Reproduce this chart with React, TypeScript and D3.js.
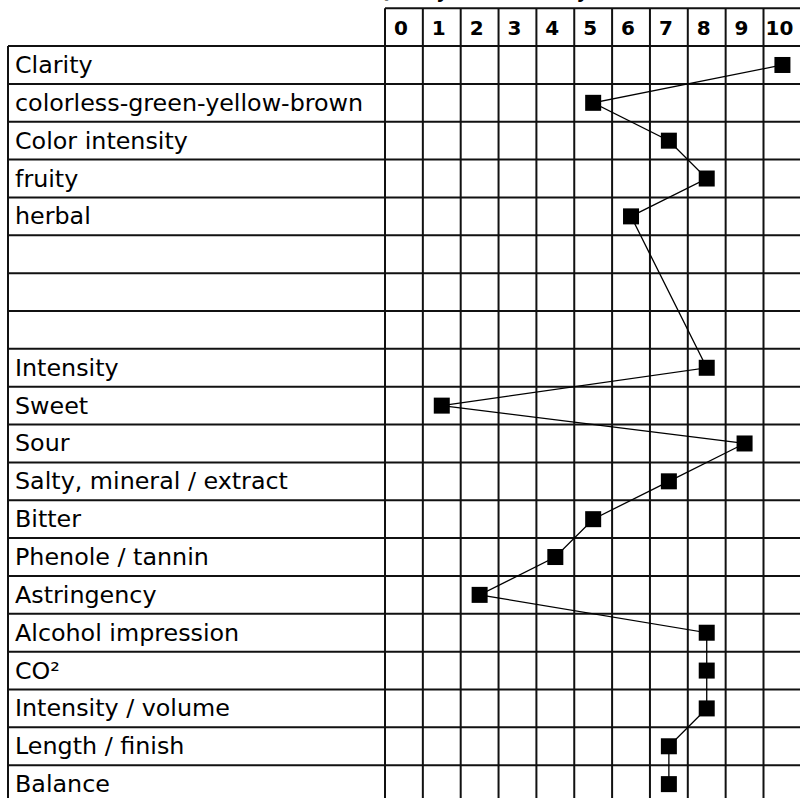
import * as d3 from "d3";
import { useEffect, useRef } from "react";

// Sensory attributes, one per table row (empty strings are blank rows)
const attributes: string[] = [
  "Clarity",
  "colorless-green-yellow-brown",
  "Color intensity",
  "fruity",
  "herbal",
  "",
  "",
  "",
  "Intensity",
  "Sweet",
  "Sour",
  "Salty, mineral / extract",
  "Bitter",
  "Phenole / tannin",
  "Astringency",
  "Alcohol impression",
  "CO²",
  "Intensity / volume",
  "Length / finish",
  "Balance",
];
// Score per attribute (null = no score)
const scores: (number | null)[] = [
  10, 5, 7, 8, 6, null, null, null, 8, 1, 9, 7, 5, 4, 2, 8, 8, 8, 7, 7,
];
// Header columns of the grid
const scaleTicks: number[] = [0, 1, 2, 3, 4, 5, 6, 7, 8, 9, 10];
const title = "Quality and intensity";

const width = 800;
const height = 798;
const labelLeft = 8;
const gridLeft = 385;
const cell = 37.85;
const headerTop = 8.2;
const rowsTop = headerTop + cell;

export default function App() {
  const svgRef = useRef<SVGSVGElement>(null);

  useEffect(() => {
    const svg = d3.select(svgRef.current);
    svg.selectAll("*").remove();

    const x = d3
      .scaleBand<number>()
      .domain(scaleTicks)
      .range([gridLeft, gridLeft + cell * scaleTicks.length]);
    const y = d3
      .scaleBand<number>()
      .domain(d3.range(attributes.length))
      .range([rowsTop, rowsTop + cell * attributes.length]);

    const gridBottom = rowsTop + cell * attributes.length;
    const gridRight = gridLeft + cell * scaleTicks.length;
    const font = "'DejaVu Sans', sans-serif";

    // title, almost entirely above the visible area
    svg
      .append("text")
      .attr("x", 375)
      .attr("y", -2.5)
      .attr("font-family", font)
      .attr("font-weight", "bold")
      .attr("font-size", 18)
      .text(title);

    const grid = svg
      .append("g")
      .attr("stroke", "#111")
      .attr("stroke-width", 2);

    // horizontal lines over the label column (rows only)
    grid
      .selectAll("line.hl")
      .data(d3.range(attributes.length + 1))
      .enter()
      .append("line")
      .attr("x1", labelLeft)
      .attr("x2", gridLeft)
      .attr("y1", (d) => rowsTop + d * cell)
      .attr("y2", (d) => rowsTop + d * cell);

    // horizontal lines over the score grid (header included)
    grid
      .selectAll("line.hg")
      .data(d3.range(attributes.length + 2))
      .enter()
      .append("line")
      .attr("x1", gridLeft)
      .attr("x2", gridRight)
      .attr("y1", (d) => headerTop + d * cell)
      .attr("y2", (d) => headerTop + d * cell);

    // left border of labels
    grid
      .append("line")
      .attr("x1", labelLeft)
      .attr("x2", labelLeft)
      .attr("y1", rowsTop)
      .attr("y2", gridBottom);

    // vertical grid lines
    grid
      .selectAll("line.v")
      .data(d3.range(scaleTicks.length + 1))
      .enter()
      .append("line")
      .attr("x1", (d) => gridLeft + d * cell)
      .attr("x2", (d) => gridLeft + d * cell)
      .attr("y1", headerTop)
      .attr("y2", gridBottom);

    // header numbers
    svg
      .append("g")
      .selectAll("text")
      .data(scaleTicks)
      .enter()
      .append("text")
      .attr("x", (d) => (x(d) as number) + x.bandwidth() / 2 - 3)
      .attr("y", headerTop + cell / 2 + 7.5)
      .attr("text-anchor", "middle")
      .attr("font-family", font)
      .attr("font-weight", "bold")
      .attr("font-size", 20)
      .attr("fill", "#000")
      .text((d) => d);

    // row labels
    svg
      .append("g")
      .selectAll("text")
      .data(attributes)
      .enter()
      .append("text")
      .attr("x", labelLeft + 7)
      .attr("y", (_, i) => (y(i) as number) + y.bandwidth() / 2 + 8)
      .attr("font-family", font)
      .attr("font-size", 23.8)
      .attr("fill", "#000")
      .text((d) => d);

    const points = scores
      .map((v, i) => ({ v, i }))
      .filter((d) => d.v !== null) as { v: number; i: number }[];

    const cx = (d: { v: number }) => (x(d.v) as number) + x.bandwidth() / 2;
    const cy = (d: { i: number }) => (y(d.i) as number) + y.bandwidth() / 2;

    // profile line
    svg
      .append("path")
      .datum(points)
      .attr("fill", "none")
      .attr("stroke", "#000")
      .attr("stroke-width", 1.3)
      .attr(
        "d",
        d3
          .line<{ v: number; i: number }>()
          .x(cx)
          .y(cy)
      );

    // markers
    const size = 16;
    svg
      .append("g")
      .selectAll("rect")
      .data(points)
      .enter()
      .append("rect")
      .attr("x", (d) => cx(d) - size / 2)
      .attr("y", (d) => cy(d) - size / 2)
      .attr("width", size)
      .attr("height", size)
      .attr("fill", "#000");
  }, []);

  return (
    <svg
      ref={svgRef}
      width={width}
      height={height}
      style={{ position: "absolute", left: 0, top: 0, background: "#fff" }}
    />
  );
}
